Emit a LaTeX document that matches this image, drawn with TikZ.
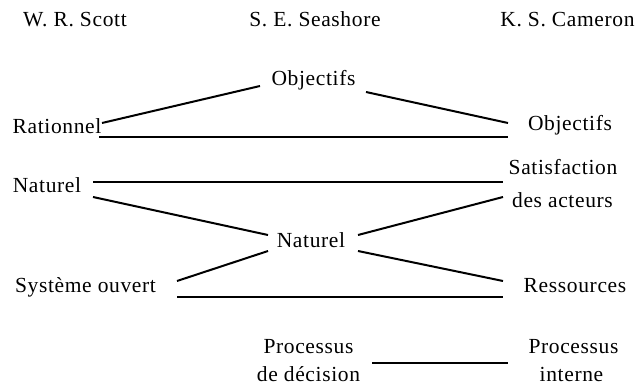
\documentclass[tikz,border=0pt]{standalone}
\usepackage{fontspec}
\setmainfont[LetterSpace=3]{Liberation Serif}
\begin{document}
\begin{tikzpicture}[x=1pt,y=-1pt,
  lbl/.style={anchor=base,inner sep=0pt,font=\fontsize{21.5}{26}\selectfont},
  link/.style={line width=2pt,line cap=butt}]
\useasboundingbox (0,0) rectangle (640,385);
% headers
\node[lbl] (scott) at (75,27) {W. R. Scott};
\node[lbl] (seash) at (315,27) {S. E. Seashore};
\node[lbl] (camer) at (567.5,27) {K. S. Cameron};
% nodes
\node[lbl] (rat)   at (57,134) {Rationnel};
\node[lbl] (objT)  at (313.5,86) {Objectifs};
\node[lbl] (objR)  at (570,131) {Objectifs};
\node[lbl] (natL)  at (47,192) {Naturel};
\node[lbl] (sat)   at (563,175) {Satisfaction};
\node[lbl] (des)   at (562.5,207) {des acteurs};
\node[lbl] (natM)  at (311,247) {Naturel};
\node[lbl] (sys)   at (85.5,292) {Système ouvert};
\node[lbl] (res)   at (575,292) {Ressources};
\node[lbl] (procL) at (308.5,353) {Processus};
\node[lbl] (dec)   at (308.5,381.5) {de décision};
\node[lbl] (procR) at (573.5,353) {Processus};
\node[lbl] (int)   at (571.5,381) {interne};
% connectors
\draw[link] ([shift={(45,-11)}]rat.base) -- ([shift={(-53.5,0)}]objT.base);
\draw[link] ([shift={(52.5,6)}]objT.base) -- ([shift={(-62,-8)}]objR.base);
\draw[link] ([shift={(42,3)}]rat.base) -- ([shift={(-62,6)}]objR.base);
\draw[link] ([shift={(46,-10)}]natL.base) -- ([shift={(-60,7)}]sat.base);
\draw[link] ([shift={(46,5)}]natL.base) -- ([shift={(-43,-12)}]natM.base);
\draw[link] ([shift={(47,-12)}]natM.base) -- ([shift={(-59.5,-10)}]des.base);
\draw[link] ([shift={(-43,4)}]natM.base) -- ([shift={(91.5,-11)}]sys.base);
\draw[link] ([shift={(47,4)}]natM.base) -- ([shift={(-72,-11)}]res.base);
\draw[link] ([shift={(91.5,5)}]sys.base) -- ([shift={(-72,5)}]res.base);
\draw[link] ([shift={(63.5,-18.5)}]dec.base) -- ([shift={(-63.5,-18)}]int.base);
\end{tikzpicture}
\end{document}
